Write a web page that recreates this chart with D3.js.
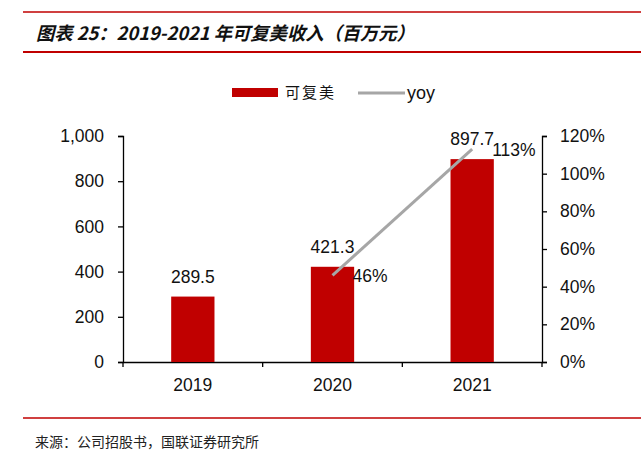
<!DOCTYPE html>
<html><head><meta charset="utf-8">
<script src="https://cdn.jsdelivr.net/npm/d3@7"></script>
<style>body{margin:0;background:#fff}svg{display:block}</style>
</head><body>
<svg id="c" width="641" height="458"></svg>
<script>
const categories = ["2019", "2020", "2021"];
const revenue = [289.5, 421.3, 897.7];
const yoyCats = ["2020", "2021"];
const yoy = [46, 113];
const leftTicks = [0, 200, 400, 600, 800, 1000];
const rightTicks = [0, 20, 40, 60, 80, 100, 120];
const titleText = "图表 25：2019-2021 年可复美收入（百万元）";
const sourceText = "来源：公司招股书，国联证券研究所";

const svg = d3.select("#c");
const red = "#C00000", grey = "#A6A6A6";
const font = "'Liberation Sans', Arial, sans-serif";
const cjk = "'Noto Sans CJK SC', sans-serif";
const fs = 17.5;

// header/footer rules
svg.append("line").attr("x1", 23).attr("x2", 641).attr("y1", 12).attr("y2", 12).attr("stroke", red).attr("stroke-width", 1.5);
svg.append("line").attr("x1", 23).attr("x2", 641).attr("y1", 52).attr("y2", 52).attr("stroke", red).attr("stroke-width", 2);
svg.append("line").attr("x1", 23).attr("x2", 641).attr("y1", 418).attr("y2", 418).attr("stroke", red).attr("stroke-width", 1.5);
svg.append("text").attr("x", 36).attr("y", 40).text(titleText)
  .attr("font-family", cjk).attr("font-size", 18.3).attr("font-weight", 600).attr("font-style", "italic")
  .attr("fill", "#111");
svg.append("text").attr("x", 35).attr("y", 447).text(sourceText)
  .attr("font-family", cjk).attr("font-size", 14).attr("fill", "#222");

const x = d3.scaleBand().domain(categories).range([123, 542]).paddingInner(0.69).paddingOuter(0.345);
const xStep = d3.scaleBand().domain(categories).range([123, 542]);
const y = d3.scaleLinear().domain([0, 1000]).range([362, 136]);
const y2 = d3.scaleLinear().domain([0, 120]).range([362, 136]);

// axes
const gl = svg.append("g").attr("transform", "translate(123,0)")
  .call(d3.axisLeft(y).tickValues(leftTicks).tickSize(5).tickPadding(14).tickFormat(d3.format(",")));
const gr = svg.append("g").attr("transform", "translate(542,0)")
  .call(d3.axisRight(y2).tickValues(rightTicks).tickSize(5).tickPadding(13).tickFormat(d => d + "%"));
const gx = svg.append("g").attr("transform", "translate(0,362)")
  .call(d3.axisBottom(xStep).tickValues([]).tickSizeOuter(0));
[gl, gr, gx].forEach(g => {
  g.select(".domain").attr("stroke", "#000").attr("stroke-width", 1.3);
  g.selectAll(".tick line").attr("stroke", "#000").attr("stroke-width", 1.3);
  g.selectAll("text").attr("font-family", font).attr("font-size", fs).attr("fill", "#111");
});
// category boundary ticks
const bounds = [123, ...categories.map(c => xStep(c) + xStep.step())];
svg.append("g").selectAll("line").data(bounds).join("line")
  .attr("x1", d => d).attr("x2", d => d).attr("y1", 362).attr("y2", 367)
  .attr("stroke", "#000").attr("stroke-width", 1.3);
svg.append("g").selectAll("text").data(categories).join("text")
  .attr("x", d => xStep(d) + xStep.bandwidth() / 2).attr("y", 391)
  .attr("text-anchor", "middle").attr("font-family", font).attr("font-size", fs).attr("fill", "#111")
  .text(d => d);

// bars
svg.append("g").selectAll("rect").data(revenue).join("rect")
  .attr("x", (d, i) => x(categories[i])).attr("width", x.bandwidth())
  .attr("y", d => y(d)).attr("height", d => y(0) - y(d)).attr("fill", red);
svg.append("g").selectAll("text").data(revenue).join("text")
  .attr("x", (d, i) => x(categories[i]) + x.bandwidth() / 2).attr("y", d => y(d) - 14)
  .attr("text-anchor", "middle").attr("font-family", font).attr("font-size", fs).attr("fill", "#111")
  .text(d => d.toFixed(1));

// yoy line
const cx = c => xStep(c) + xStep.bandwidth() / 2;
const line = d3.line().x((d, i) => cx(yoyCats[i])).y(d => y2(d));
svg.append("path").datum(yoy).attr("d", line).attr("fill", "none").attr("stroke", grey).attr("stroke-width", 3);
svg.append("g").selectAll("text").data(yoy).join("text")
  .attr("x", (d, i) => cx(yoyCats[i]) + 20).attr("y", d => y2(d) + 7)
  .attr("font-family", font).attr("font-size", fs).attr("fill", "#111")
  .text(d => d + "%");

// legend
svg.append("rect").attr("x", 232).attr("y", 88).attr("width", 46).attr("height", 9).attr("fill", red);
svg.append("text").attr("x", 285).attr("y", 98).text("可复美").attr("font-family", cjk).attr("font-size", 15).attr("fill", "#111").attr("letter-spacing", 2);
svg.append("line").attr("x1", 358).attr("x2", 405).attr("y1", 93).attr("y2", 93).attr("stroke", grey).attr("stroke-width", 3);
svg.append("text").attr("x", 407).attr("y", 99).text("yoy").attr("font-family", font).attr("font-size", 18).attr("fill", "#111");
</script>
</body></html>
